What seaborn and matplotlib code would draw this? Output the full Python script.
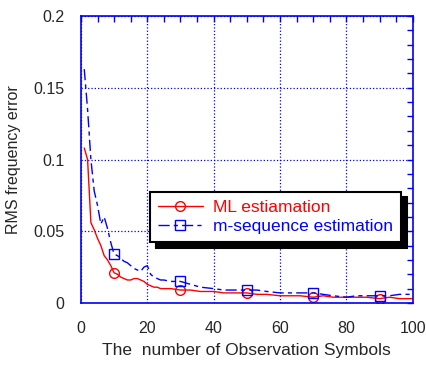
import matplotlib
matplotlib.use("Agg")
import matplotlib.pyplot as plt
import seaborn as sns
import pandas as pd
from matplotlib.ticker import MultipleLocator

# number of observation symbols
n_symbols = [1, 2, 3, 4, 5, 6, 7, 8, 9, 10, 11, 12, 13, 14, 15, 16, 17, 18, 19, 20,
             21, 22, 23, 24, 25, 27, 30, 33, 36, 40, 43, 46, 50, 53, 56, 60, 63, 66,
             70, 73, 76, 80, 83, 86, 90, 93, 96, 100]

# RMS frequency error, ML estimation
ml_err = [0.108, 0.100, 0.056, 0.051, 0.045, 0.040, 0.033, 0.030, 0.026, 0.021,
          0.020, 0.018, 0.017, 0.016, 0.016, 0.017, 0.017, 0.016, 0.015, 0.013,
          0.012, 0.011, 0.011, 0.010, 0.010, 0.010, 0.009, 0.009, 0.008, 0.008,
          0.007, 0.007, 0.007, 0.006, 0.006, 0.005, 0.005, 0.005, 0.004, 0.005,
          0.004, 0.004, 0.004, 0.004, 0.003, 0.004, 0.003, 0.003]

# RMS frequency error, m-sequence estimation
mseq_err = [0.163, 0.135, 0.100, 0.078, 0.068, 0.055, 0.060, 0.052, 0.042, 0.034,
            0.033, 0.031, 0.029, 0.028, 0.026, 0.024, 0.023, 0.022, 0.025, 0.026,
            0.020, 0.018, 0.017, 0.016, 0.016, 0.015, 0.015, 0.013, 0.011, 0.010,
            0.009, 0.009, 0.009, 0.009, 0.008, 0.007, 0.007, 0.007, 0.007, 0.006,
            0.005, 0.004, 0.005, 0.005, 0.005, 0.005, 0.006, 0.006]

marker_at = [10, 30, 50, 70, 90]

df = pd.DataFrame({"n": n_symbols, "ml": ml_err, "mseq": mseq_err})
mark_idx = [n_symbols.index(v) for v in marker_at]

sns.set_style("white")
plt.rcParams["font.family"] = ["Liberation Sans", "DejaVu Sans"]

fig = plt.figure(figsize=(4.26, 3.65), dpi=100)
ax = fig.add_axes([0.190, 0.170, 0.779, 0.786])

# ML estimation - solid red with circles
sns.lineplot(data=df, x="n", y="ml", ax=ax, color="red", linewidth=1,
             marker="o", markersize=7, markevery=mark_idx,
             markerfacecolor="none", markeredgecolor="red", markeredgewidth=1,
             label="ML estiamation", errorbar=None)

# m-sequence - dash-dot blue with squares
sns.lineplot(data=df, x="n", y="mseq", ax=ax, color="blue", linewidth=1,
             linestyle=(0, (8, 3, 3, 3)),
             marker="s", markersize=7, markevery=mark_idx,
             markerfacecolor="none", markeredgecolor="blue", markeredgewidth=1,
             label="m-sequence estimation", errorbar=None)

ax.set_xlim(0, 100)
ax.set_ylim(0, 0.2)
ax.xaxis.set_minor_locator(MultipleLocator(5))
ax.yaxis.set_minor_locator(MultipleLocator(0.01))
ax.set_yticks([0, 0.05, 0.1, 0.15, 0.2])
ax.set_yticklabels(["0", "0.05", "0.1", "0.15", "0.2"])
ax.set_xticks([0, 20, 40, 60, 80, 100])
ax.set_xticklabels(["0", "20", "40", "60", "80", "100"])

ax.tick_params(which="both", direction="in", top=True, right=True,
               color="blue", length=4, width=1)
ax.tick_params(axis="x", which="major", pad=13, labelsize=11.5)
ax.tick_params(axis="y", which="major", pad=12, labelsize=11.5)
for s in ax.spines.values():
    s.set_color("blue")
    s.set_linewidth(1.2)

ax.grid(True, which="major", color="blue", linestyle=":", linewidth=0.9)

ax.set_xlabel("The  number of Observation Symbols", fontsize=12.5, labelpad=5)
ax.set_ylabel("RMS frequency error", fontsize=11.5, labelpad=9)

leg = ax.legend(loc="upper left", bbox_to_anchor=(0.208, 0.387), borderaxespad=0,
                fancybox=False, edgecolor="black", framealpha=1, fontsize=12.5,
                labelcolor="linecolor", handlelength=2.6, borderpad=0.45,
                labelspacing=0.25, handletextpad=0.6,
                shadow={"color": "black", "alpha": 1, "ox": 4, "oy": -4})
leg.get_frame().set_linewidth(1.5)

fig.savefig("out.png", dpi=100)
